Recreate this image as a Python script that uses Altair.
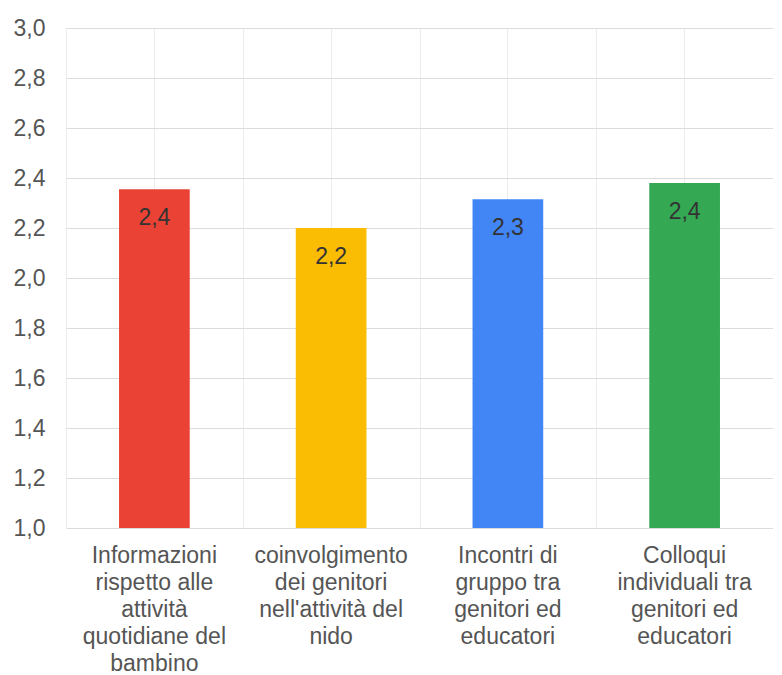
import altair as alt
import pandas as pd

categories = [
    "Informazioni|rispetto alle|attività|quotidiane del|bambino",
    "coinvolgimento|dei genitori|nell'attività del|nido",
    "Incontri di|gruppo tra|genitori ed|educatori",
    "Colloqui|individuali tra|genitori ed|educatori",
]
values = [2.355, 2.2, 2.315, 2.38]
colors = ["#EA4335", "#FBBC04", "#4285F4", "#34A853"]
y_ticks = [1.0, 1.2, 1.4, 1.6, 1.8, 2.0, 2.2, 2.4, 2.6, 2.8, 3.0]

df = pd.DataFrame({"cat": categories, "val": values})

FONT = "Liberation Sans"
FS = 23

x_scale = alt.Scale(paddingInner=0, paddingOuter=0)

x_main = alt.X(
    "cat:N",
    sort=categories,
    scale=x_scale,
    axis=alt.Axis(
        title=None,
        orient="bottom",
        labelAngle=0,
        labelExpr="split(datum.label, '|')",
        labelFont=FONT,
        labelFontSize=FS,
        labelColor="#555555",
        labelLineHeight=27,
        labelPadding=16,
        labelBaseline="top",
        ticks=False,
        domain=False,
        grid=True,
        gridColor="#ececec",
        gridWidth=1,
    ),
)

y_enc = alt.Y(
    "val:Q",
    scale=alt.Scale(domain=[1.0, 3.0], zero=False, nice=False),
    axis=alt.Axis(
        title=None,
        values=y_ticks,
        labelExpr="replace(format(datum.value, '.1f'), '.', ',')",
        labelFont=FONT,
        labelFontSize=FS,
        labelColor="#555555",
        labelPadding=21,
        ticks=False,
        domain=False,
        grid=True,
        gridColor="#dcdcdc",
        gridWidth=1.2,
    ),
)

bars = alt.Chart(df).mark_bar(width=alt.RelativeBandSize(0.4)).encode(
    x=x_main,
    y=y_enc,
    y2=alt.datum(1.0),
    color=alt.Color("cat:N", sort=categories, scale=alt.Scale(domain=categories, range=colors), legend=None),
)

labels = alt.Chart(df).transform_calculate(
    lab="replace(format(datum.val, '.1f'), '.', ',')"
).mark_text(
    font=FONT, fontSize=FS, color="#333333", baseline="top", dy=18
).encode(
    x=alt.X(
        "cat:N",
        sort=categories,
        scale=x_scale,
        axis=alt.Axis(
            orient="bottom",
            title=None,
            labels=False,
            ticks=False,
            domain=False,
            grid=True,
            tickBand="extent",
            gridColor="#ececec",
            gridWidth=1,
        ),
    ),
    y=alt.Y("val:Q"),
    text="lab:N",
)

chart = (
    alt.layer(bars, labels)
    .resolve_axis(x="independent")
    .properties(width=707, height=500, padding={"left": 5, "top": 9, "right": 0, "bottom": 0})
    .configure_view(stroke=None)
)

chart.save("out.html", embed_options={"renderer": "svg", "actions": False})
